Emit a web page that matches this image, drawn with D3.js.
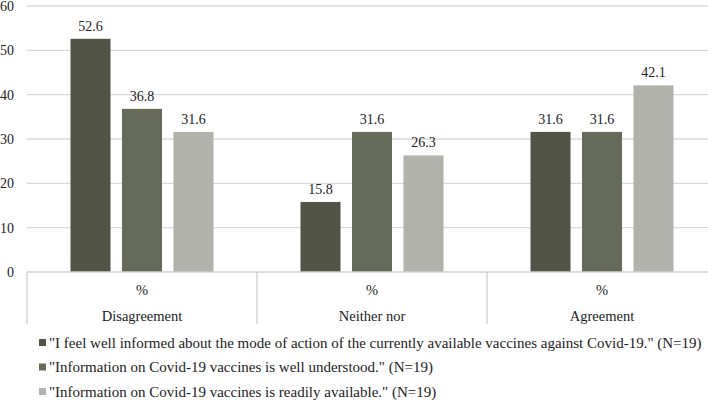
<!DOCTYPE html>
<html><head><meta charset="utf-8">
<script src="https://cdn.jsdelivr.net/npm/d3@7"></script>
<style>body{margin:0;background:#fff}svg{display:block}</style>
</head><body><svg id="c" width="708" height="400"></svg>
<script>
const categories = ["Disagreement", "Neither nor", "Agreement"];
const subLabel = "%";
const seriesNames = [
  "\"I feel well informed about the mode of action of the currently available vaccines against Covid-19.\" (N=19)",
  "\"Information on Covid-19 vaccines is well understood.\" (N=19)",
  "\"Information on Covid-19 vaccines is readily available.\" (N=19)"
];
const informed = [52.6, 15.8, 31.6];
const understood = [36.8, 31.6, 31.6];
const available = [31.6, 26.3, 42.1];
const yTicks = [0, 10, 20, 30, 40, 50, 60];
const colors = ["#525546", "#676b59", "#b0b2ab"];

const series = [informed, understood, available];
const FONT = '"Liberation Serif"';
const svg = d3.select("#c");
const pLeft = 27, pRight = 717, pTop = 6, pBottom = 272;
const x0 = d3.scaleBand().domain(categories).range([pLeft, pRight]);
const x1 = d3.scaleBand().domain(d3.range(series.length)).range([43.5, 186.5]).paddingInner(0.223).paddingOuter(0);
const y = d3.scaleLinear().domain([0, 60]).range([pBottom, pTop]);

// gridlines
svg.append("g").selectAll("line").data(yTicks.filter(d => d > 0)).join("line")
  .attr("x1", pLeft).attr("x2", 708).attr("y1", d => y(d)).attr("y2", d => y(d))
  .attr("stroke", "#d9d9d9").attr("stroke-width", 1.3);

// y tick labels
svg.append("g").selectAll("text").data(yTicks).join("text")
  .style("font-family", FONT)
  .attr("x", 14).attr("y", d => y(d)).attr("dy", "0.35em").attr("text-anchor", "end")
  .attr("font-size", 14).attr("fill", "#222").text(d => d);

// bars
const groups = svg.append("g").selectAll("g").data(categories).join("g")
  .attr("transform", c => `translate(${x0(c)},0)`);
groups.selectAll("rect").data((c, ci) => series.map((s, si) => ({si, v: s[ci]}))).join("rect")
  .attr("x", d => x1(d.si)).attr("width", x1.bandwidth())
  .attr("y", d => y(d.v)).attr("height", d => y(0) - y(d.v))
  .attr("fill", d => colors[d.si]);
groups.selectAll("text.v").data((c, ci) => series.map((s, si) => ({si, v: s[ci]}))).join("text")
  .attr("class", "v").style("font-family", FONT)
  .attr("x", d => x1(d.si) + x1.bandwidth() / 2).attr("y", d => y(d.v) - 8)
  .attr("text-anchor", "middle").attr("font-size", 14).attr("fill", "#222")
  .text(d => d.v.toFixed(1));

// x axis table
svg.append("line").attr("x1", pLeft).attr("x2", 708).attr("y1", pBottom).attr("y2", pBottom)
  .attr("stroke", "#d0d0d0").attr("stroke-width", 1.3);
svg.append("g").selectAll("line").data(categories).join("line")
  .attr("x1", c => x0(c)).attr("x2", c => x0(c)).attr("y1", pBottom).attr("y2", 324)
  .attr("stroke", "#d0d0d0").attr("stroke-width", 1.3);
svg.append("g").selectAll("text").data(categories).join("text")
  .style("font-family", FONT)
  .attr("x", c => x0(c) + x0.bandwidth() / 2).attr("y", 290).attr("dy", "0.35em")
  .attr("text-anchor", "middle").attr("font-size", 14.5).attr("fill", "#222").text(subLabel);
svg.append("g").selectAll("text").data(categories).join("text")
  .style("font-family", FONT)
  .attr("x", c => x0(c) + x0.bandwidth() / 2).attr("y", 316).attr("dy", "0.35em")
  .attr("text-anchor", "middle").attr("font-size", 14.5).attr("fill", "#222").text(c => c);

// legend
const lg = svg.append("g").selectAll("g").data(seriesNames).join("g")
  .attr("transform", (d, i) => `translate(39,${342.5 + i * 24.5})`);
lg.append("rect").attr("x", 0).attr("y", -3.5).attr("width", 7).attr("height", 7).attr("fill", (d, i) => colors[i]);
lg.append("text").style("font-family", FONT).attr("x", 10).attr("dy", "0.35em").attr("font-size", 15).attr("fill", "#222").text(d => d);
</script></body></html>
